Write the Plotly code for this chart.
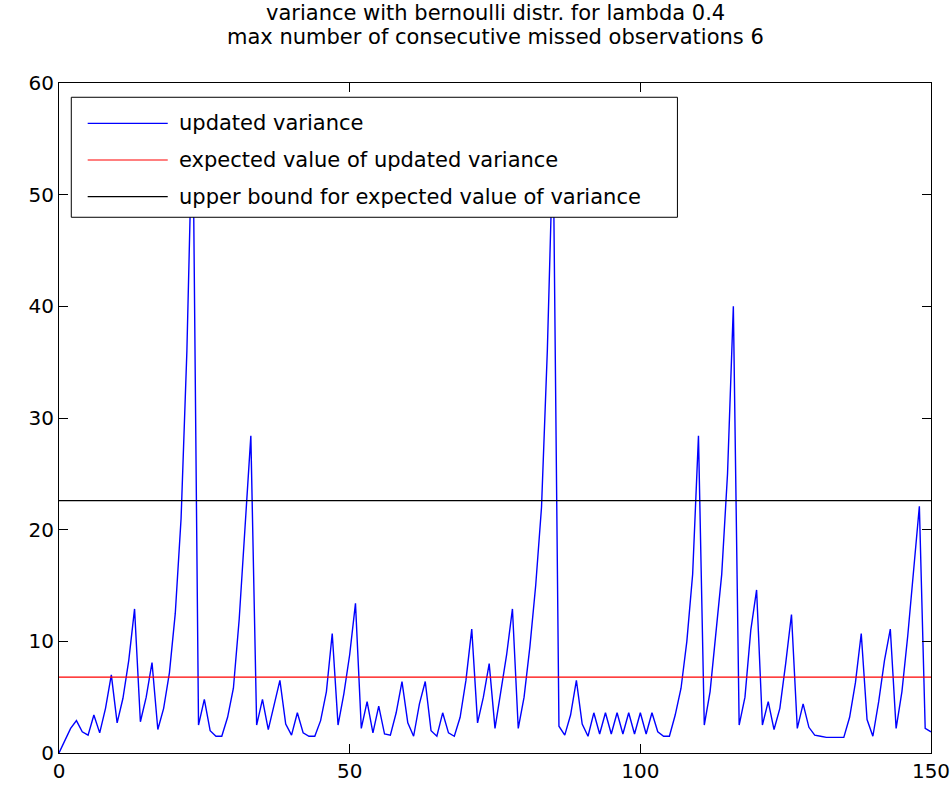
import plotly.graph_objects as go

# ---- data ----
steps = list(range(0, 151))
updated_variance = [
    0.0, 1.1, 2.2, 2.9, 1.9, 1.6, 3.4, 1.8, 4.0, 7.0,
    2.7, 4.9, 8.3, 12.9, 2.8, 5.0, 8.1, 2.1, 4.0, 7.2,
    12.5, 21.0, 36.0, 58.0, 2.5, 4.8, 2.0, 1.5, 1.5, 3.2,
    5.8, 12.0, 20.0, 28.4, 2.5, 4.8, 2.1, 4.2, 6.5, 2.6,
    1.6, 3.6, 1.8, 1.5, 1.5, 2.9, 5.5, 10.7, 2.5, 5.3,
    8.8, 13.4, 2.2, 4.6, 1.8, 4.2, 1.7, 1.6, 3.6, 6.4,
    2.7, 1.5, 4.4, 6.4, 2.0, 1.5, 3.6, 1.8, 1.5, 3.2,
    6.5, 11.1, 2.7, 5.0, 8.0, 2.2, 5.3, 8.8, 12.9, 2.2,
    5.0, 9.5, 15.0, 22.0, 36.0, 55.0, 2.4, 1.6, 3.4, 6.5,
    2.6, 1.5, 3.6, 1.7, 3.6, 1.7, 3.6, 1.7, 3.6, 1.7,
    3.6, 1.7, 3.6, 1.9, 1.5, 1.5, 3.4, 5.8, 10.0, 16.0,
    28.4, 2.5, 5.5, 10.5, 16.0, 25.0, 40.0, 2.5, 5.0, 11.0,
    14.6, 2.5, 4.6, 2.1, 4.0, 8.0, 12.4, 2.2, 4.4, 2.3,
    1.6, 1.5, 1.4, 1.4, 1.4, 1.4, 3.2, 6.3, 10.7, 3.0,
    1.5, 4.6, 8.3, 11.1, 2.2, 5.5, 10.5, 16.5, 22.1, 2.2,
    1.9,
]
expected_value = 6.8
upper_bound = 22.6
x_range = [0, 150]
y_range = [0, 60]
x_ticks = [0, 50, 100, 150]
y_ticks = [0, 10, 20, 30, 40, 50, 60]

series_names = [
    "updated variance",
    "expected value of updated variance",
    "upper bound for expected value of variance",
]
series_colors = ["#0000ff", "#ff0000", "#000000"]

title_lines = [
    "variance with bernoulli distr. for lambda 0.4",
    "max number of consecutive missed observations 6",
]

FONT = "DejaVu Sans, Verdana, sans-serif"
FS = 21
TICK_FS = 20

fig = go.Figure()
fig.add_trace(go.Scatter(x=steps, y=updated_variance, mode="lines",
                         line=dict(color=series_colors[0], width=1.4),
                         name=series_names[0], showlegend=False))
fig.add_trace(go.Scatter(x=x_range, y=[expected_value] * 2, mode="lines",
                         line=dict(color=series_colors[1], width=1.2),
                         name=series_names[1], showlegend=False))
fig.add_trace(go.Scatter(x=x_range, y=[upper_bound] * 2, mode="lines",
                         line=dict(color=series_colors[2], width=1.2),
                         name=series_names[2], showlegend=False))

# manual legend (box, sample lines, labels) in paper coordinates
box_x0, box_x1, box_y0, box_y1 = 0.0141, 0.7092, 0.7996, 0.9787
row_y = [0.9398, 0.8851, 0.8303]
line_x0, line_x1, text_x = 0.0329, 0.1247, 0.1349
shapes = [dict(type="rect", xref="paper", yref="paper", x0=box_x0, x1=box_x1,
               y0=box_y0, y1=box_y1, line=dict(color="black", width=1),
               fillcolor="white", layer="above")]
annotations = []
for name, col, ry in zip(series_names, series_colors, row_y):
    shapes.append(dict(type="line", xref="paper", yref="paper", x0=line_x0, x1=line_x1,
                       y0=ry, y1=ry, line=dict(color=col, width=1.2), layer="above"))
    annotations.append(dict(xref="paper", yref="paper", x=text_x, y=ry, text=name,
                            showarrow=False, xanchor="left", yanchor="middle",
                            font=dict(family=FONT, size=FS, color="black")))

# two-line title as annotations above the plot area
title_y = [1.104, 1.068]
for line, ty in zip(title_lines, title_y):
    annotations.append(dict(xref="paper", yref="paper", x=0.5, y=ty, text=line,
                            showarrow=False, xanchor="center", yanchor="middle",
                            font=dict(family=FONT, size=FS, color="black")))

fig.update_layout(
    width=951, height=788,
    margin=dict(l=59, r=20, t=83, b=35, autoexpand=False),
    paper_bgcolor="white", plot_bgcolor="white",
    font=dict(family=FONT, size=FS, color="black"),
    shapes=shapes, annotations=annotations,
    showlegend=False,
)
fig.update_xaxes(range=x_range, tickvals=x_ticks, ticks="inside", ticklen=9,
                 tickcolor="black", showline=True, linecolor="black", linewidth=1,
                 mirror="ticks", showgrid=False, zeroline=False,
                 ticklabeloverflow="allow", automargin=False,
                 tickfont=dict(family=FONT, size=TICK_FS, color="black"))
fig.update_yaxes(range=y_range, tickvals=y_ticks, ticks="inside", ticklen=9,
                 tickcolor="black", showline=True, linecolor="black", linewidth=1,
                 mirror="ticks", showgrid=False, zeroline=False,
                 ticklabeloverflow="allow", automargin=False,
                 tickfont=dict(family=FONT, size=TICK_FS, color="black"))

fig.write_html("out.html")
